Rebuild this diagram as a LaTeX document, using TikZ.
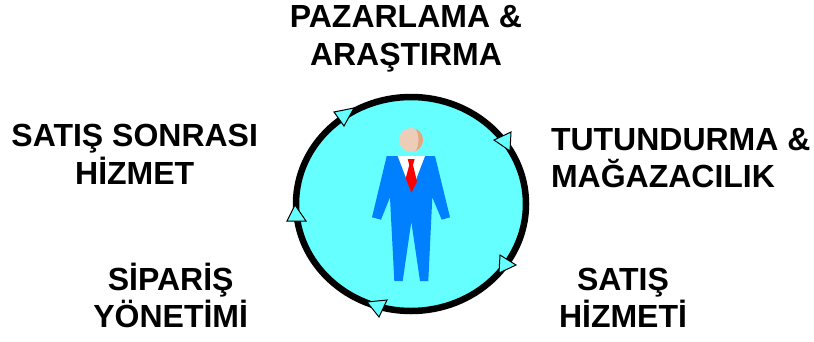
\documentclass[tikz,border=0pt]{standalone}
\usepackage{fontspec}
\setmainfont{Liberation Sans}
\usepackage{tikz}
\usetikzlibrary{shapes,positioning}
\definecolor{ringfill}{RGB}{102, 255, 255}
\definecolor{suit}{RGB}{0, 128, 255}
\definecolor{skin}{RGB}{238, 205, 184}
\definecolor{skinshade}{RGB}{224, 168, 128}
\definecolor{tie}{RGB}{255, 0, 0}
\tikzstyle{ring} = [ellipse, draw=black, line width=6.5pt, fill=ringfill, inner sep=0pt, minimum width=230pt, minimum height=214pt]
\tikzstyle{textonly} = [draw=none, fill=none, inner sep=0pt, outer sep=0pt, text centered, align=center, font=\bfseries\fontsize{32}{37.5}\selectfont]
\tikzstyle{head} = [circle, fill=skin, inner sep=0pt, minimum size=24pt]
\tikzstyle{turn} = [draw=black, line width=1pt, fill=ringfill, line join=miter]

\begin{document}
\begin{tikzpicture}[x=1pt, y=-1pt]
\useasboundingbox (0,0) rectangle (814,341);

% circle =============================
\node[ring] (circle) at (411,204) {};

% labels
\node[textonly, above=132pt of circle.center, xshift=-5pt] (market) {PAZARLAMA \&\\ARAŞTIRMA};
\node[textonly, above right=16pt and 140pt of circle.center, align=left] (promo) {TUTUNDURMA \&\\MAĞAZACILIK};
\node[textonly, above left=20pt and 153pt of circle.center] (after) {SATIŞ SONRASI\\HİZMET};
\node[textonly, below left=59pt and 163pt of circle.center] (order) {SİPARİŞ\\YÖNETİMİ};
\node[textonly, below right=64pt and 148pt of circle.center] (service) {SATIŞ\\HİZMETİ};

% man
\node[head] (face) at (411,140) {};
\fill[skinshade] (face.70) arc (-70:70:12) .. controls (419.5,148) and (419.5,132) .. (face.70);
\fill[suit] (386.7,156) -- (435,156) -- (450,217.3) -- (441.7,219.7) -- (432.3,197.3) -- (428.3,281) -- (420,281) -- (411.3,221.7) -- (402.7,281) -- (394.3,281) -- (390,197.3) -- (381,219.7) -- (372,217.3) -- cycle;
\fill[white] (397.7,156) -- (425,156) -- (411.3,191.7) -- cycle;
\fill[tie] (407.7,159) -- (414.7,159) -- (413,165) -- (417,181.7) -- (411.3,192.7) -- (405.7,178.3) -- (409.3,165) -- cycle;

% arrowheads
\path[turn] (334,112) -- (354,108) -- (344,126) -- cycle;
\path[turn] (494,140) -- (511,132) -- (510,151) -- cycle;
\path[turn] (295,205) -- (306,221) -- (287,221) -- cycle;
\path[turn] (500,255) -- (516,265) -- (499,273) -- cycle;
\path[turn] (367,302) -- (387,300) -- (379,317) -- cycle;

\end{tikzpicture}
\end{document}
